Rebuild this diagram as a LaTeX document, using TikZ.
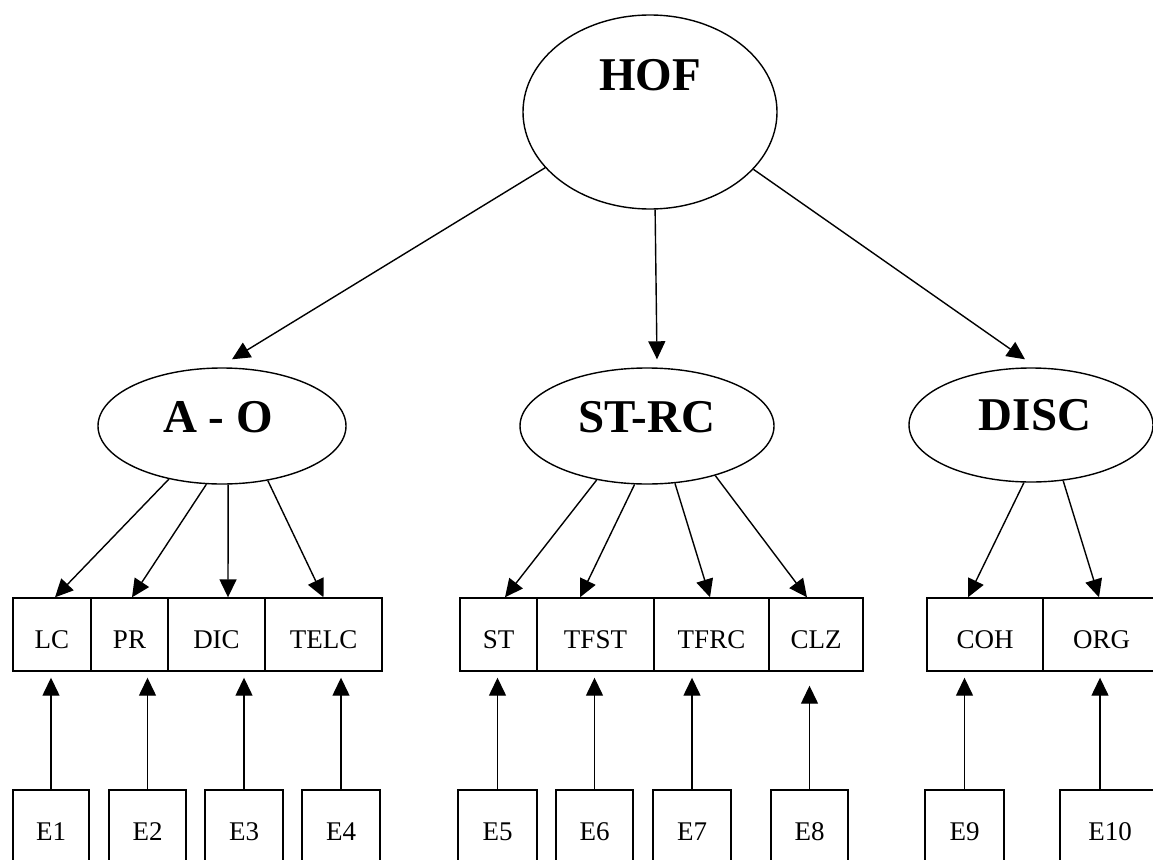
\documentclass[tikz,border=0pt]{standalone}
\usepackage{fontspec}
\setmainfont{Liberation Serif}
\usetikzlibrary{shapes.geometric,arrows.meta}
\begin{document}
\begin{tikzpicture}[x=1pt,y=-1pt,
  latent/.style={ellipse, draw, line width=1.4pt, inner sep=0pt},
  factorname/.style={font=\fontsize{47}{50}\selectfont\bfseries, anchor=base, inner sep=0pt},
  measure/.style={rectangle, draw, line width=1.4pt, inner sep=0pt, minimum height=73pt,
                  text height=27pt, text depth=0pt, font=\fontsize{27}{30}\selectfont},
  link/.style={draw, line width=1.4pt, -{Triangle[length=18pt,width=17pt]}},
]
\useasboundingbox (0,0) rectangle (1153,859);
\clip (0,0) rectangle (1153,859);

% higher-order factor and first-order factors
\node[latent, minimum width=254pt, minimum height=194pt] (hof) at (650,112) {};
\node[latent, minimum width=248pt, minimum height=116pt] (ao) at (222,426) {};
\node[latent, minimum width=254pt, minimum height=116pt] (strc) at (647,426) {};
\node[latent, minimum width=244pt, minimum height=114pt] (disc) at (1031,425) {};
\node[factorname] (hoft) at (650,90) {HOF};
\node[factorname] (aot) at (218,432) {A - O};
\node[factorname] (strct) at (647,432) {ST-RC};
\node[factorname] (disct) at (1035,430) {DISC};

% observed indicators
\node[measure, minimum width=78pt] (lc) at (52,634.5) {LC};
\node[measure, minimum width=77pt] (pr) at (129.5,634.5) {PR};
\node[measure, minimum width=97pt] (dic) at (216.5,634.5) {DIC};
\node[measure, minimum width=117pt] (telc) at (323.5,634.5) {TELC};
\node[measure, minimum width=77pt] (st) at (498.5,634.5) {ST};
\node[measure, minimum width=117pt] (tfst) at (595.5,634.5) {TFST};
\node[measure, minimum width=115pt] (tfrc) at (711.5,634.5) {TFRC};
\node[measure, minimum width=94pt] (clz) at (816,634.5) {CLZ};
\node[measure, minimum width=116pt] (coh) at (985,634.5) {COH};
\node[measure, minimum width=117pt] (org) at (1101.5,634.5) {ORG};

% error terms
\node[measure, minimum width=76pt] (e1) at (51,826.5) {E1};
\node[measure, minimum width=77pt] (e2) at (147.5,826.5) {E2};
\node[measure, minimum width=78pt] (e3) at (244,826.5) {E3};
\node[measure, minimum width=78pt] (e4) at (341,826.5) {E4};
\node[measure, minimum width=79pt] (e5) at (497.5,826.5) {E5};
\node[measure, minimum width=77pt] (e6) at (594.5,826.5) {E6};
\node[measure, minimum width=78pt] (e7) at (692,826.5) {E7};
\node[measure, minimum width=77pt] (e8) at (809.5,826.5) {E8};
\node[measure, minimum width=79pt] (e9) at (964.5,826.5) {E9};
\node[measure, minimum width=100pt] (e10) at (1110,826.5) {E10};

% HOF to first-order factors
\draw[link] (hof.208) -- ([xshift=10pt,yshift=8pt]ao.north);
\draw[link] (hof.273) -- ([xshift=10pt,yshift=8pt]strc.north);
\draw[link] (hof.331) -- ([xshift=-6pt,yshift=8pt]disc.north);

% factor loadings
\draw[link] (ao.225) -- ([xshift=3pt]lc.north);
\draw[link] (ao.255) -- ([xshift=2.5pt]pr.north);
\draw[link] (ao.276) -- ([xshift=11.5pt]dic.north);
\draw[link] (ao.310) -- (telc.north);
\draw[link] (strc.227) -- ([xshift=6.5pt]st.north);
\draw[link] (strc.258) -- ([xshift=-15.5pt]tfst.north);
\draw[link] (strc.296) -- ([xshift=-1.5pt]tfrc.north);
\draw[link] (strc.324) -- ([xshift=-9pt]clz.north);
\draw[link] (disc.263) -- ([xshift=-17pt]coh.north);
\draw[link] (disc.300) -- ([xshift=-2.5pt]org.north);

% error paths
\draw[link, shorten >=6pt] (e1.north) -- (e1.north |- lc.south);
\draw[link, shorten >=6pt] (e2.north) -- (e2.north |- pr.south);
\draw[link, shorten >=6pt] (e3.north) -- (e3.north |- dic.south);
\draw[link, shorten >=6pt] (e4.north) -- (e4.north |- telc.south);
\draw[link, shorten >=6pt] (e5.north) -- (e5.north |- st.south);
\draw[link, shorten >=6pt] (e6.north) -- (e6.north |- tfst.south);
\draw[link, shorten >=6pt] (e7.north) -- (e7.north |- tfrc.south);
\draw[link, shorten >=14pt] (e8.north) -- (e8.north |- clz.south);
\draw[link, shorten >=6pt] (e9.north) -- (e9.north |- coh.south);
\draw[link, shorten >=6pt] ([xshift=-10pt]e10.north) -- ([xshift=-10pt]e10.north |- org.south);
\end{tikzpicture}
\end{document}
